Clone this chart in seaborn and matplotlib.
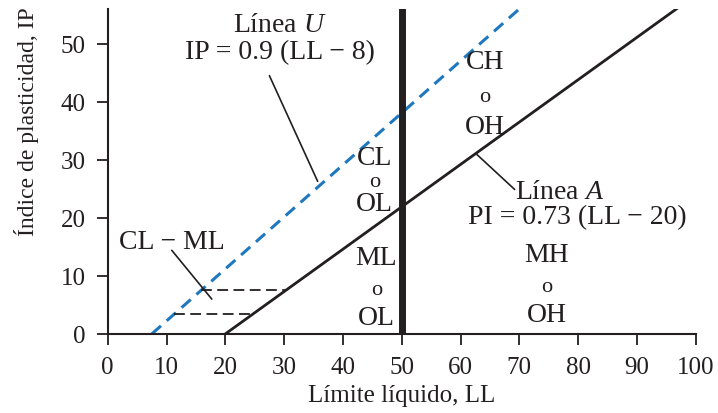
import matplotlib
matplotlib.use("Agg")
import matplotlib.pyplot as plt
import seaborn as sns
import pandas as pd

# ---- data ----
a_ll = [20, 100]          # Línea A endpoints (LL)
a_pi = [0, 58.4]          # Línea A endpoints (PI)
u_ll = [7.5, 70]          # Línea U endpoints (LL)
u_pi = [0, 56]            # Línea U endpoints (PI)
clml_ll_hi = [15.8, 30.3]  # upper CL-ML dashed boundary
clml_pi_hi = [7.5, 7.5]
clml_ll_lo = [11.3, 24.8]  # lower CL-ML dashed boundary
clml_pi_lo = [3.5, 3.5]
ll_split = 50
x_ticks = list(range(0, 101, 10))
y_ticks = list(range(0, 51, 10))

sns.set_style("ticks")
plt.rcParams['font.family'] = ['Liberation Serif', 'DejaVu Serif']
plt.rcParams['mathtext.fontset'] = 'custom'
plt.rcParams['mathtext.rm'] = 'Liberation Serif'
plt.rcParams['mathtext.it'] = 'Liberation Serif:italic'

fig = plt.figure(figsize=(7.18, 4.14), dpi=100)
ax = fig.add_axes([0.150, 0.191, 0.819, 0.785])

tc = "#231f20"
dfa = pd.DataFrame({"LL": a_ll, "PI": a_pi})
dfu = pd.DataFrame({"LL": u_ll, "PI": u_pi})
sns.lineplot(data=dfa, x="LL", y="PI", ax=ax, color=tc, lw=2.0)
sns.lineplot(data=dfu, x="LL", y="PI", ax=ax, color="#1f78be", lw=2.2,
             linestyle=(0, (4, 2.5)))
sns.lineplot(x=clml_ll_hi, y=clml_pi_hi, ax=ax, color=tc, lw=1.3,
             linestyle=(0, (6, 3)))
sns.lineplot(x=clml_ll_lo, y=clml_pi_lo, ax=ax, color=tc, lw=1.3,
             linestyle=(0, (6, 3)))
ax.axvline(ll_split, color=tc, lw=5)

ax.set_xlim(0, 100)
ax.set_ylim(0, 56)
ax.set_xticks(x_ticks)
ax.set_yticks(y_ticks)
ax.tick_params(labelsize=18, length=8, width=1.3, color=tc,
               labelcolor=tc)
ax.tick_params(axis="y", pad=8)
ax.tick_params(axis="x", pad=8)
for s in ["top", "right"]:
    ax.spines[s].set_visible(False)
for s in ["left", "bottom"]:
    ax.spines[s].set_linewidth(1.5)
    ax.spines[s].set_color(tc)
ax.set_xlabel("Límite líquido, LL", fontsize=18, color=tc, labelpad=4)
ax.set_ylabel("Índice de plasticidad, IP", fontsize=17, color=tc)
ax.yaxis.set_label_coords(-0.116, 0.655)

fs = 20
ax.text(29.3, 53.3, "Línea $\\it{U}$", fontsize=fs, ha="center", va="center", color=tc)
ax.text(29.3, 48.6, "IP = 0.9 (LL − 8)", fontsize=fs, ha="center", va="center", color=tc)
ax.plot([27.5, 35.7], [44.5, 26.3], color=tc, lw=1.2)

ax.text(76.9, 24.6, "Línea $\\it{A}$", fontsize=fs, ha="center", va="center", color=tc)
ax.text(79.9, 20.3, "PI = 0.73 (LL − 20)", fontsize=fs, ha="center", va="center", color=tc)
ax.plot([62.8, 69.2], [30.9, 24.9], color=tc, lw=1.2)

ax.text(10.9, 16.0, "CL − ML", fontsize=fs, ha="center", va="center", color=tc)
ax.plot([10.9, 17.7], [14.4, 6.0], color=tc, lw=1.2)

def stack(x, ys, labels):
    for y, t in zip(ys, labels):
        ax.text(x, y, t, fontsize=fs if t != "o" else 16, ha="center", va="center", color=tc)

stack(64.1, [46.9, 40.9, 35.7], ["CH", "o", "OH"])
stack(45.4, [30.4, 26.3, 22.5], ["CL", "o", "OL"])
stack(45.7, [13.2, 7.7, 2.9], ["ML", "o", "OL"])
stack(74.7, [13.7, 8.2, 3.3], ["MH", "o", "OH"])

fig.savefig("out.png", dpi=100)
